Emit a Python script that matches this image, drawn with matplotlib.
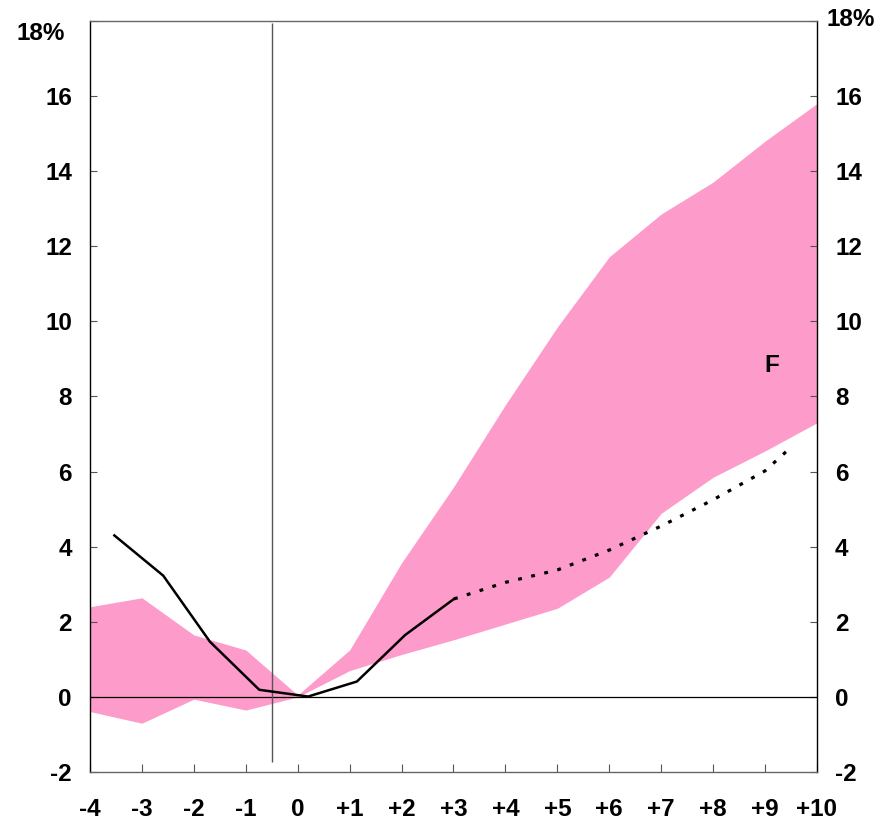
import matplotlib
matplotlib.use('Agg')
import matplotlib.pyplot as plt

plt.rcParams['font.family'] = ['Liberation Sans', 'DejaVu Sans']
plt.rcParams['font.weight'] = 'bold'

# pink band (range)
band_x = [-4, -3, -2, -1, 0, 1, 2, 3, 4, 5, 6, 7, 8, 9, 10]
band_hi = [2.40, 2.64, 1.65, 1.25, 0.05, 1.25, 3.57, 5.59, 7.78, 9.85, 11.72, 12.86, 13.71, 14.80, 15.80]
band_lo = [-0.39, -0.70, -0.06, -0.35, 0.0, 0.70, 1.13, 1.52, 1.94, 2.36, 3.19, 4.89, 5.85, 6.55, 7.30]

# actual path (solid) and projection (dotted)
actual_x = [-3.53, -2.59, -1.69, -0.74, 0.20, 1.14, 2.07, 3.01]
actual_y = [4.30, 3.23, 1.47, 0.19, 0.01, 0.41, 1.65, 2.61]
proj_x = [3.01, 4, 5, 6, 7, 8, 9, 9.5]
proj_y = [2.61, 3.05, 3.38, 3.91, 4.55, 5.25, 6.02, 6.65]

xticks = list(range(-4, 11))
xlabels = [str(t) if t <= 0 else '+' + str(t) for t in xticks]
yticks = list(range(-2, 19, 2))
ylabels = [str(t) for t in yticks[:-1]] + ['']

pink = '#FD9BCB'
fs = 17.5

fig = plt.figure(figsize=(8.84, 8.22), dpi=100)
ax = fig.add_axes([0.1018, 0.0608, 0.8224, 0.9137])

ax.fill_between(band_x, band_lo, band_hi, color=pink, linewidth=0, zorder=1)
ax.axhline(0, color='black', lw=0.9, zorder=2)
ax.vlines(-0.5, -1.72, 17.95, color='#555555', lw=1.0, zorder=2)
ax.plot(actual_x, actual_y, color='black', lw=1.8, zorder=3)
ax.plot(proj_x, proj_y, color='black', lw=2.3, dashes=(1.2, 3), zorder=3)

ax.text(9.13, 8.82, 'F', fontsize=fs, fontweight='bold', ha='center', va='center')

ax.set_xlim(-4, 10)
ax.set_ylim(-2, 18)
ax.set_xticks(xticks)
ax.set_xticklabels(xlabels)
ax.set_yticks(yticks)
ax.set_yticklabels(ylabels)

ax.tick_params(axis='x', direction='in', length=6, width=0.8, pad=19, labelsize=fs, colors='#555555',
               labelcolor='black')
ax.tick_params(axis='y', direction='in', length=5, width=0.8, pad=13, labelsize=fs,
               left=True, right=True, labelleft=True, labelright=True, colors='#555555', labelcolor='black')
for lab in ax.get_yticklabels() + ax.get_xticklabels():
    lab.set_fontweight('bold')

ax.spines['left'].set_color('black')
ax.spines['right'].set_color('black')
ax.spines['top'].set_color('#666666')
ax.spines['bottom'].set_color('#666666')
for s in ax.spines.values():
    s.set_linewidth(1.0)

fig.text(17 / 884, 1 - 33 / 822, '18%', fontsize=fs, fontweight='bold', ha='left', va='center')
fig.text(826 / 884, 1 - 20 / 822, '18%', fontsize=fs, fontweight='bold', ha='left', va='center')

fig.savefig('out.png', dpi=100)
